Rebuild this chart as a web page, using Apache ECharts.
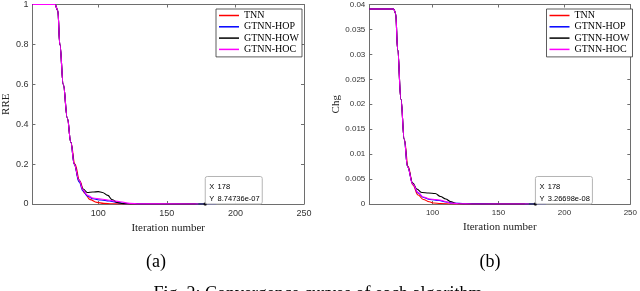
<!DOCTYPE html>
<html><head><meta charset="utf-8">
<script src="https://cdn.jsdelivr.net/npm/echarts@6/dist/echarts.min.js"></script>
<style>html,body{margin:0;padding:0;background:#fff}#c{width:640px;height:291px}</style>
</head><body><div id="c"></div>
<script>
// ---------- data ----------
const names = ['TNN', 'GTNN-HOP', 'GTNN-HOW', 'GTNN-HOC'];
const colors = ['#ff0000', '#0000ff', '#000000', '#ff00ff'];
const xTicks = [100, 150, 200, 250];

// RRE (plot a)
const xTNN_a = [52, 68.5, 70.5, 72, 74.5, 77.5, 80, 83, 86.5, 90, 94, 99, 104, 110, 120, 150, 171];
const rreTNN = [1, 1, 0.97, 0.8, 0.6, 0.43, 0.31, 0.2, 0.115, 0.055, 0.022, 0.008, 0.003, 0.001, 0, 0, 0];
const xHOP_a = [52, 68.5, 70.5, 72, 74.5, 77.5, 80, 82.5, 86, 89, 92, 96, 102, 108, 114, 120, 130, 150, 186];
const rreHOP = [1, 1, 0.97, 0.8, 0.6, 0.43, 0.31, 0.2, 0.11, 0.065, 0.04, 0.026, 0.02, 0.015, 0.007, 0.002, 0.0005, 0, 0];
const xHOW_a = [52, 68.5, 70.5, 72, 74.5, 77.5, 80, 82.5, 86, 89, 92, 96, 100, 103, 107, 110, 114, 118, 125, 178];
const rreHOW = [1, 1, 0.97, 0.8, 0.6, 0.43, 0.31, 0.2, 0.12, 0.075, 0.058, 0.06, 0.062, 0.058, 0.043, 0.022, 0.008, 0.002, 0, 0];
const xHOC_a = [52, 68.5, 70.5, 72, 74.5, 77.5, 80, 82.5, 86, 89, 92, 96, 102, 107, 112, 116, 123, 130, 173];
const rreHOC = [1, 1, 0.97, 0.8, 0.6, 0.43, 0.31, 0.2, 0.12, 0.07, 0.045, 0.03, 0.025, 0.02, 0.015, 0.011, 0.003, 0.0005, 0];

// Chg (plot b)
const xTNN_b = [52, 70.5, 72, 73.5, 76, 78.5, 81.5, 85, 89, 93, 97.5, 101, 106, 115, 170];
const chgTNN = [0.0391, 0.0391, 0.0382, 0.031, 0.021, 0.013, 0.0075, 0.0038, 0.0018, 0.0009, 0.00045, 0.0002, 0.0001, 0, 0];
const xHOP_b = [52, 70.5, 72, 73.5, 76, 78.5, 81, 85, 89, 93, 98, 105, 110, 115, 125, 150, 186];
const chgHOP = [0.0391, 0.0391, 0.0382, 0.031, 0.021, 0.013, 0.0075, 0.004, 0.0022, 0.0013, 0.0009, 0.0007, 0.0004, 0.0002, 0.00005, 0, 0];
const xHOW_b = [52, 70.5, 72, 73.5, 76, 78.5, 81, 85, 88, 92, 97, 102, 106, 110, 113.5, 118, 125, 178];
const chgHOW = [0.0391, 0.0391, 0.0382, 0.031, 0.021, 0.013, 0.0075, 0.0042, 0.003, 0.0023, 0.0022, 0.0021, 0.0015, 0.001, 0.0005, 0.0001, 0, 0];
const xHOC_b = [52, 70.5, 72, 73.5, 76, 78.5, 81, 85, 89, 93, 98, 105.5, 110, 113, 120, 130, 173];
const chgHOC = [0.0391, 0.0391, 0.0382, 0.031, 0.021, 0.013, 0.0075, 0.004, 0.0023, 0.0014, 0.001, 0.0008, 0.0005, 0.0002, 0.00005, 0, 0];

// data tips
const tipX = 178;
const tipRRE = 8.74736e-07;
const tipChg = 3.26698e-08;
const tipRREText = '8.74736e-07';
const tipChgText = '3.26698e-08';

// ---------- chart ----------
const zip = (xs, ys) => xs.map((x, i) => [x, ys[i]]);
const seriesA = [zip(xTNN_a, rreTNN), zip(xHOP_a, rreHOP), zip(xHOW_a, rreHOW), zip(xHOC_a, rreHOC)];
const seriesB = [zip(xTNN_b, chgTNN), zip(xHOP_b, chgHOP), zip(xHOW_b, chgHOW), zip(xHOC_b, chgHOC)];

const frame = '#6e6e6e';
const sans = 'Liberation Sans';
const serif = 'Liberation Serif';

function xAxes(gi, fs) {
  const base = {
    gridIndex: gi, type: 'value', min: 52, max: 250,
    axisLine: {show: true, onZero: false, lineStyle: {color: frame, width: 1}},
    axisTick: {show: true, inside: true, length: 3, customValues: xTicks, lineStyle: {color: frame}},
    splitLine: {show: false}
  };
  return [
    Object.assign({}, base, {
      position: 'bottom',
      axisLabel: {customValues: xTicks, fontSize: fs, color: '#333', fontFamily: sans, margin: 5},
      name: 'Iteration number', nameLocation: 'middle', nameGap: 13,
      nameTextStyle: {fontFamily: serif, fontSize: 11, color: '#222'}
    }),
    Object.assign({}, base, {position: 'top', axisLabel: {show: false}})
  ];
}
function yAxes(gi, max, interval, fs, name, gap) {
  const base = {
    gridIndex: gi, type: 'value', min: 0, max: max, interval: interval,
    axisLine: {show: true, onZero: false, lineStyle: {color: frame, width: 1}},
    axisTick: {show: true, inside: true, length: 3, lineStyle: {color: frame}},
    splitLine: {show: false}
  };
  return [
    Object.assign({}, base, {
      position: 'left',
      axisLabel: {fontSize: fs, color: '#333', fontFamily: sans, margin: 4,
        formatter: v => String(+v.toFixed(4))},
      name: name, nameLocation: 'middle', nameGap: gap, nameRotate: 90,
      nameTextStyle: {fontFamily: serif, fontSize: 11, color: '#222'}
    }),
    Object.assign({}, base, {position: 'right', axisLabel: {show: false}})
  ];
}

const series = [];
seriesA.forEach((d, i) => series.push({
  name: names[i], type: 'line', xAxisIndex: 0, yAxisIndex: 0, data: d,
  showSymbol: false, smooth: 0.4, smoothMonotone: 'x',
  lineStyle: {color: colors[i], width: 1.1}, itemStyle: {color: colors[i]}, z: 2 + i
}));
seriesB.forEach((d, i) => series.push({
  name: names[i], type: 'line', xAxisIndex: 2, yAxisIndex: 2, data: d,
  showSymbol: false, smooth: 0.4, smoothMonotone: 'x',
  lineStyle: {color: colors[i], width: 1.1}, itemStyle: {color: colors[i]}, z: 2 + i
}));
series.push({type: 'scatter', xAxisIndex: 0, yAxisIndex: 0, data: [[tipX, tipRRE]],
  symbolSize: 3.5, itemStyle: {color: '#000'}, z: 10, silent: true});
series.push({type: 'scatter', xAxisIndex: 2, yAxisIndex: 2, data: [[tipX, tipChg]],
  symbolSize: 3.5, itemStyle: {color: '#000'}, z: 10, silent: true});

function legend(left) {
  return {
    data: names, left: left, top: 9, orient: 'vertical',
    itemWidth: 20, itemHeight: 1.5, itemGap: 0.3, icon: 'rect',
    padding: [1, 3, 2, 3], borderColor: '#333', borderWidth: 0.8, backgroundColor: '#fff',
    selectedMode: false,
    textStyle: {fontFamily: serif, fontSize: 10, color: '#000', lineHeight: 11}
  };
}

const chart = echarts.init(document.getElementById('c'), null, {renderer: 'canvas'});
chart.setOption({
  animation: false,
  grid: [
    {left: 30.5, right: 336, top: 4.3, bottom: 87},
    {left: 369.3, right: 6, top: 4.5, bottom: 87}
  ],
  xAxis: xAxes(0, 9).concat(xAxes(1, 8)),
  yAxis: yAxes(0, 1, 0.2, 9, 'RRE', 18).concat(yAxes(1, 0.04, 0.005, 8, 'Chg', 28)),
  legend: [legend(216), legend(546.5)],
  series: series
});

function tipBox(gridX, gridY, xv, yv, valText) {
  const p = chart.convertToPixel({xAxisIndex: gridX, yAxisIndex: gridY}, [xv, yv]);
  const w = 57, h = 27.5;
  return [
    {type: 'rect', z: 20, shape: {x: p[0], y: p[1] - h, width: w, height: h, r: 2},
     style: {fill: 'rgba(255,255,255,0.92)', stroke: '#b5b5b5', lineWidth: 1}},
    {type: 'text', z: 21, x: p[0] + 4, y: p[1] - h + 4.5,
     style: {text: '{k|X} {v|' + xv + '}\n{k|Y} {v|' + valText + '}',
       rich: {k: {fontFamily: sans, fontSize: 7.5, color: '#444', lineHeight: 9.3},
              v: {fontFamily: sans, fontSize: 7.5, color: '#1a8cff', lineHeight: 9.3}},
       textVerticalAlign: 'top'}}
  ];
}

const g = []
  .concat(tipBox(0, 0, tipX, tipRRE, tipRREText))
  .concat(tipBox(2, 2, tipX, tipChg, tipChgText));
g.push({type: 'text', x: 156, y: 262, style: {text: '(a)', fontFamily: serif, fontSize: 18, fill: '#000', textAlign: 'center', textVerticalAlign: 'middle'}});
g.push({type: 'text', x: 490, y: 262, style: {text: '(b)', fontFamily: serif, fontSize: 18, fill: '#000', textAlign: 'center', textVerticalAlign: 'middle'}});
g.push({type: 'text', x: 318, y: 285, style: {text: 'Fig. 2: Convergence curves of each algorithm', fontFamily: serif, fontSize: 18, fill: '#000', textAlign: 'center', textVerticalAlign: 'top'}});
chart.setOption({graphic: g});
</script></body></html>
